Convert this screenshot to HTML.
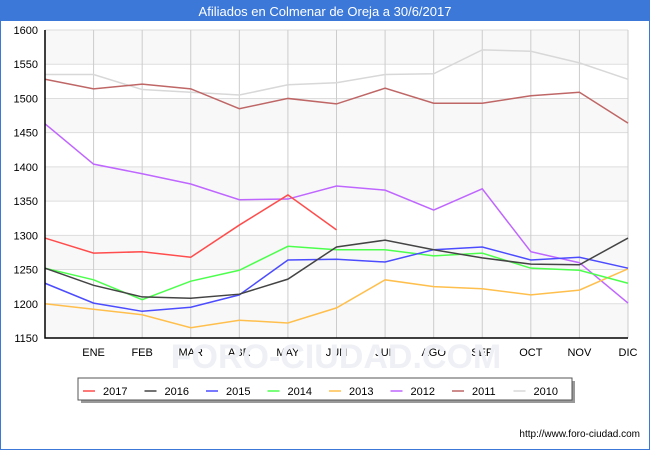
<!DOCTYPE html>
<html><head><meta charset="utf-8"><style>
body{margin:0;width:650px;height:450px;overflow:hidden;font-family:"Liberation Sans",sans-serif;}
</style></head><body>
<svg id="svg" width="650" height="450" xmlns="http://www.w3.org/2000/svg">
<rect x="0" y="0" width="650" height="450" fill="#fff" stroke="#3b78d8" stroke-width="2"/>
<rect x="0" y="0" width="650" height="21" fill="#3b78d8"/>
<text x="325" y="16" text-anchor="middle" fill="#fff" font-size="13">Afiliados en Colmenar de Oreja a 30/6/2017</text>
<g id="plot"></g>
<text x="640" y="437" text-anchor="end" font-size="10" fill="#000">http://www.foro-ciudad.com</text>
</svg>
<script>
const months=["","ENE","FEB","MAR","ABR","MAY","JUN","JUL","AGO","SEP","OCT","NOV","DIC"];
const yTicks=[1150,1200,1250,1300,1350,1400,1450,1500,1550,1600];
const seriesNames=["2017","2016","2015","2014","2013","2012","2011","2010"];
const seriesColors=["#ff4c4c","#444444","#4c4cff","#4cff4c","#ffbf4c","#bf66ff","#bf6666","#d8d8d8"];
const s2017=[1296,1274,1276,1268,1315,1359,1308];
const s2016=[1252,1227,1210,1208,1214,1236,1283,1293,1279,1267,1258,1257,1296];
const s2015=[1230,1201,1189,1195,1213,1264,1265,1261,1279,1283,1264,1268,1252];
const s2014=[1252,1235,1206,1233,1249,1284,1279,1279,1270,1274,1252,1249,1230];
const s2013=[1200,1192,1184,1165,1176,1172,1194,1235,1225,1222,1213,1220,1251];
const s2012=[1463,1404,1390,1375,1352,1353,1372,1366,1337,1368,1276,1260,1201];
const s2011=[1528,1514,1521,1514,1485,1500,1492,1515,1493,1493,1504,1509,1464];
const s2010=[1535,1535,1513,1509,1505,1520,1523,1535,1536,1571,1569,1552,1528];
const allSeries=[s2017,s2016,s2015,s2014,s2013,s2012,s2011,s2010];
const NS="http://www.w3.org/2000/svg";
const L=45,R=628,T=30,B=338,yMin=1150,yMax=1600;
const xs=i=>L+i*(R-L)/(months.length-1);
const ys=v=>B-(v-yMin)*(B-T)/(yMax-yMin);
const g=document.getElementById('plot');
function mk(t,a){const e=document.createElementNS(NS,t);for(const k in a)e.setAttribute(k,a[k]);g.appendChild(e);return e;}
for(let i=0;i<yTicks.length-1;i++){
 if(i%2===0){const r=mk('rect',{x:L,y:ys(yTicks[i+1]),width:R-L,height:ys(yTicks[i])-ys(yTicks[i+1]),fill:'#f8f8f8'});
 
 }
}
yTicks.forEach(v=>{
 const l=mk('line',{x1:L,x2:R,y1:ys(v),y2:ys(v),stroke:'#ddd'});
 
 
 const t=mk('text',{x:L-7,y:ys(v)+4,'text-anchor':'end','font-size':'11',fill:'#000'});
 t.textContent=v;
 
 
});
months.forEach((m,i)=>{
 if(i>0){const l=mk('line',{x1:xs(i),x2:xs(i),y1:T,y2:B,stroke:'#ccc'});
 
 }
 const t=mk('text',{x:xs(i),y:B+18,'text-anchor':'middle','font-size':'11',fill:'#000'});
 t.textContent=m;
 
 
});
const wm=mk('text',{x:336,y:368,'text-anchor':'middle','font-size':'34',fill:'#eef0f6','font-weight':'bold'});
wm.textContent="FORO-CIUDAD.COM";


for(let s=allSeries.length-1;s>=0;s--){
 const pts=allSeries[s].map((v,i)=>xs(i)+','+ys(v)).join(' ');
 const p=mk('polyline',{points:pts,fill:'none',stroke:seriesColors[s],'stroke-width':'1.5'});
 
 
}
const ax=mk('path',{d:'M'+L+' '+T+'V'+B+'H'+R,fill:'none',stroke:'#000','stroke-width':'1.5'});


const sh=mk('rect',{x:81,y:381,width:494,height:22,fill:'#999'});


const lb=mk('rect',{x:78,y:378,width:494,height:22,fill:'#fff',stroke:'#555'});


seriesNames.forEach((n,i)=>{
 const x0=83+i*61.5;
 const l=mk('line',{x1:x0,x2:x0+12,y1:391,y2:391,stroke:seriesColors[i],'stroke-width':'1.5'});
 
 
 const t=mk('text',{x:x0+20,y:395,'font-size':'11',fill:'#000'});
 t.textContent=n;
 
 
});
</script>
</body></html>
